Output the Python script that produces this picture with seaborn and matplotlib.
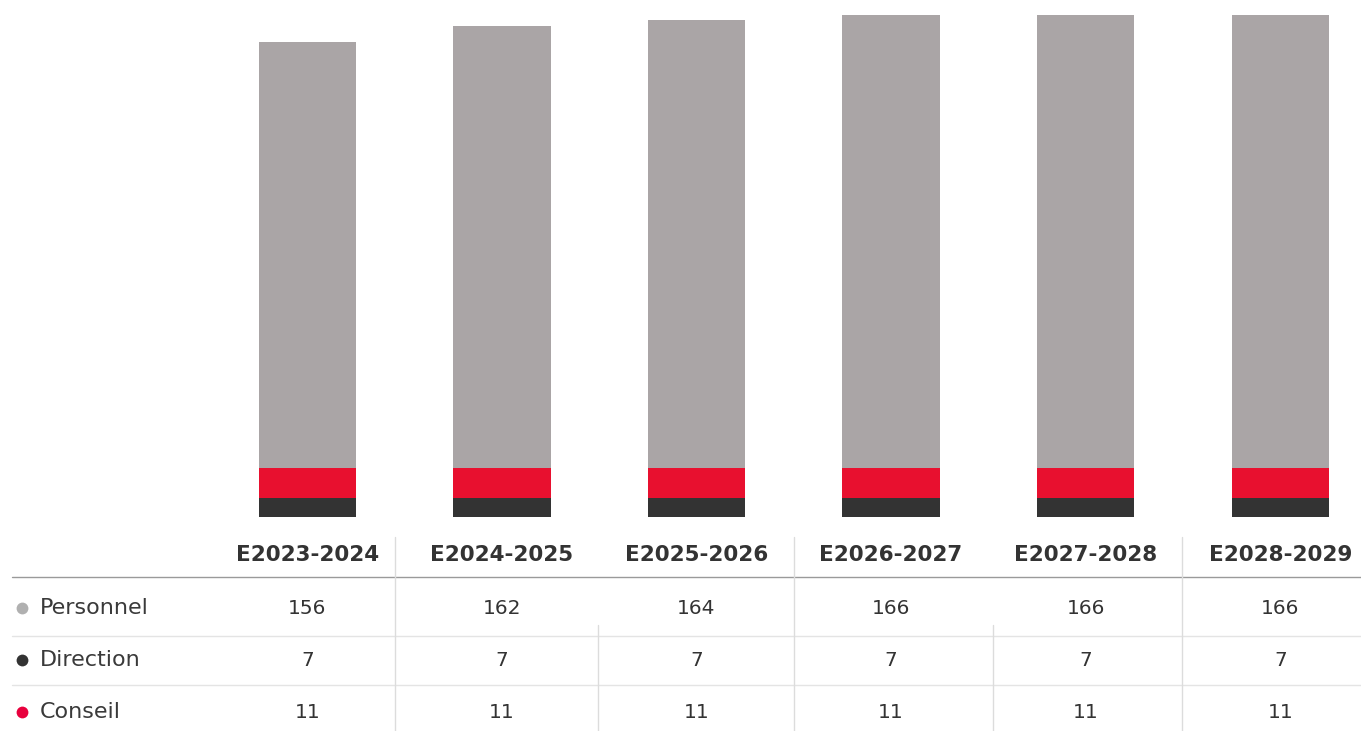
import matplotlib
matplotlib.use("Agg")
import matplotlib.pyplot as plt
import matplotlib.transforms as mtransforms
from matplotlib.lines import Line2D
import seaborn as sns
import pandas as pd

categories = ["E2023-2024", "E2024-2025", "E2025-2026", "E2026-2027", "E2027-2028", "E2028-2029"]
personnel = [156, 162, 164, 166, 166, 166]
direction = [7, 7, 7, 7, 7, 7]
conseil = [11, 11, 11, 11, 11, 11]

series_names = ["Personnel", "Direction", "Conseil"]
c_personnel = "#aaa5a6"
c_direction = "#333333"
c_conseil = "#e8102f"
legend_colors = ["#b0b0b0", "#333333", "#e8003d"]

sns.set_theme(style="white")
plt.rcParams['font.family'] = ['DejaVu Sans']

W, H = 1361, 731
fig = plt.figure(figsize=(W / 100, H / 100), dpi=100)
fig.patch.set_facecolor("white")

def fy(py):
    return 1 - py / H

def fx(px):
    return px / W

# bar axes
ax_left, ax_right = 210, 1361
ax_bottom, ax_top = 517, 0
ax = fig.add_axes([fx(ax_left), fy(ax_bottom), fx(ax_right - ax_left), (ax_bottom - ax_top) / H])

df = pd.DataFrame({"cat": categories, "Personnel": personnel, "Direction": direction, "Conseil": conseil})
df["b_conseil"] = df["Direction"]
df["b_personnel"] = df["Direction"] + df["Conseil"]

sns.barplot(data=df, x="cat", y="Direction", color=c_direction, width=0.5, ax=ax,
            saturation=1, linewidth=0)
sns.barplot(data=df, x="cat", y="Conseil", bottom=df["b_conseil"], color=c_conseil, width=0.5, ax=ax,
            saturation=1, linewidth=0)
sns.barplot(data=df, x="cat", y="Personnel", bottom=df["b_personnel"], color=c_personnel, width=0.5, ax=ax,
            saturation=1, linewidth=0)

spacing = 194.6
ax.set_xlim(-0.5, -0.5 + (ax_right - ax_left) / spacing)
total_max = max(p + d + c for p, d, c in zip(personnel, direction, conseil))
ax.set_ylim(0, total_max * 517 / 502)
ax.axis("off")

# table text
trans = mtransforms.blended_transform_factory(ax.transData, fig.transFigure)
txt_color = "#333333"
for i, cat in enumerate(categories):
    ax.text(i, fy(555), cat, transform=trans, ha="center", va="center",
            fontsize=15.5, fontweight="bold", color=txt_color)

row_y = [608, 660, 712]
row_vals = [personnel, direction, conseil]
for ry, vals in zip(row_y, row_vals):
    for i, v in enumerate(vals):
        ax.text(i, fy(ry), str(v), transform=trans, ha="center", va="center",
                fontsize=14.5, color=txt_color)

for ry, name, col in zip(row_y, series_names, legend_colors):
    fig.text(fx(40), fy(ry), name, ha="left", va="center", fontsize=16, color="#3a3a3a")
    fig.add_artist(Line2D([fx(22)], [fy(ry)], marker="o", markersize=8.5, color=col,
                          markeredgewidth=0, linestyle="none"))

# header rule
fig.add_artist(Line2D([fx(12), fx(1361)], [fy(577), fy(577)], color="#9a9a9a", linewidth=1.0))
# row rules
for ry in [636, 685]:
    fig.add_artist(Line2D([fx(12), fx(1361)], [fy(ry), fy(ry)], color="#e4e4e4", linewidth=1.0))
# vertical separators
for vx, top in [(395, 537), (598, 625), (794, 537), (993, 625), (1182, 537)]:
    fig.add_artist(Line2D([fx(vx), fx(vx)], [fy(top), fy(731)], color="#dcdcdc", linewidth=1.0))

fig.savefig("out.png", dpi=100, facecolor="white")
